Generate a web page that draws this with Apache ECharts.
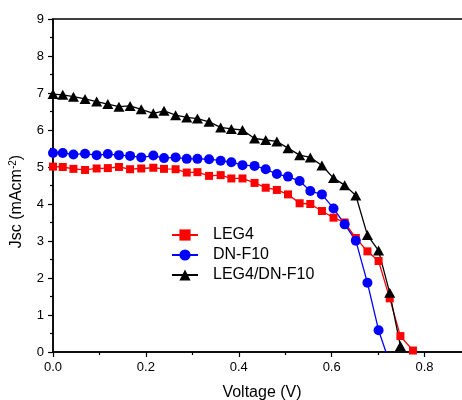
<!DOCTYPE html>
<html>
<head>
<meta charset="utf-8">
<script src="https://cdn.jsdelivr.net/npm/echarts@6/dist/echarts.min.js"></script>
<style>
html,body{margin:0;padding:0;background:#fff;}
#chart{width:462px;height:400px;}
</style>
</head>
<body>
<div id="chart"></div>
<script>
const seriesNames = ['LEG4', 'DN-F10', 'LEG4/DN-F10'];
const voltage = [0.000,0.021,0.044,0.069,0.094,0.118,0.142,0.166,0.190,0.216,0.239,0.264,0.288,0.311,0.336,0.361,0.384,0.408,0.434,0.458,0.482,0.506,0.531,0.554,0.579,0.604,0.628,0.652,0.677,0.701,0.725,0.748,0.775];
const jscLEG4 = [5.01,5.00,4.95,4.92,4.96,4.97,5.00,4.94,4.96,4.98,4.95,4.94,4.85,4.86,4.76,4.78,4.69,4.69,4.57,4.44,4.38,4.26,4.02,4.00,3.81,3.63,3.50,3.08,2.72,2.46,1.45,0.43,0.04];
const jscDNF10 = [5.38,5.38,5.34,5.36,5.32,5.35,5.32,5.30,5.26,5.31,5.24,5.26,5.22,5.22,5.21,5.17,5.13,5.05,5.03,4.94,4.81,4.74,4.62,4.35,4.26,3.88,3.45,3.01,1.87,0.59,-0.3];
const jscMix = [6.97,6.95,6.90,6.84,6.77,6.70,6.63,6.65,6.56,6.45,6.52,6.40,6.34,6.31,6.22,6.07,6.03,6.00,5.77,5.73,5.69,5.51,5.32,5.26,5.04,4.70,4.51,4.23,3.16,2.74,1.60,0.16];
const xTicks = [0.0, 0.2, 0.4, 0.6, 0.8];
const yTicks = [0,1,2,3,4,5,6,7,8,9];

function pairs(arr){ return arr.map((j,i)=>[voltage[i], j]); }

const chart = echarts.init(document.getElementById('chart'), null, {renderer:'canvas'});
const font = 'Liberation Sans, Arial, sans-serif';
chart.setOption({
  animation: false,
  grid: {left: 53, top: 19, width: 418, height: 333, show: true, borderColor: '#000', borderWidth: 1.5,
         backgroundColor: 'transparent', containLabel: false, outerBoundsMode: 'none'},
  legend: {
    orient: 'vertical', left: 166, top: 222,
    itemWidth: 26, itemHeight: 14, itemGap: 4,
    data: seriesNames,
    textStyle: {fontFamily: font, fontSize: 16, color: '#000', lineHeight: 16, padding: [0,0,0,10]}
  },
  xAxis: {
    type: 'value', min: 0, max: 0.9, interval: 0.2,
    name: 'Voltage (V)', nameLocation: 'middle', nameGap: 33,
    nameTextStyle: {fontFamily: font, fontSize: 16, color: '#000'},
    axisLine: {show: true, onZero: false, lineStyle: {color: '#000', width: 1.5}},
    axisTick: {show: true, inside: false, length: 5, lineStyle: {color: '#000', width: 1.2}},
    minorTick: {show: true, splitNumber: 2, length: 3, lineStyle: {color: '#000', width: 1.2}},
    splitLine: {show: false},
    axisLabel: {fontFamily: font, fontSize: 13, color: '#000', margin: 9,
      formatter: v => xTicks.some(t => Math.abs(t - v) < 1e-6) ? v.toFixed(1) : ''}
  },
  yAxis: {
    type: 'value', min: 0, max: 9, interval: 1,
    name: 'Jsc (mAcm{sup|-2})', nameLocation: 'middle', nameGap: 25,
    nameTextStyle: {fontFamily: font, fontSize: 16, color: '#000', lineHeight: 18, padding: [0, 32, 0, 0],
      rich: {sup: {fontFamily: font, fontSize: 10, color: '#000', verticalAlign: 'top', lineHeight: 18}}},
    axisLine: {show: true, onZero: false, lineStyle: {color: '#000', width: 1.5}},
    axisTick: {show: true, inside: false, length: 5, lineStyle: {color: '#000', width: 1.2}},
    minorTick: {show: true, splitNumber: 2, length: 3, lineStyle: {color: '#000', width: 1.2}},
    splitLine: {show: false},
    axisLabel: {fontFamily: font, fontSize: 13, color: '#000', margin: 9,
      formatter: v => yTicks.indexOf(v) >= 0 ? String(v) : ''}
  },
  series: [
    {name: seriesNames[0], type: 'line', data: pairs(jscLEG4), clip: true,
     symbol: 'rect', symbolSize: 8, color: '#ff0000',
     lineStyle: {color: '#ff0000', width: 1.3}, itemStyle: {color: '#ff0000'}},
    {name: seriesNames[1], type: 'line', data: pairs(jscDNF10), clip: true,
     symbol: 'circle', symbolSize: 10, color: '#0000ff',
     lineStyle: {color: '#0000ff', width: 1.3}, itemStyle: {color: '#0000ff'}},
    {name: seriesNames[2], type: 'line', data: pairs(jscMix), clip: true,
     symbol: 'triangle', symbolSize: [11, 10], color: '#000000',
     lineStyle: {color: '#000000', width: 1.3}, itemStyle: {color: '#000000'}}
  ]
});
</script>
</body>
</html>
